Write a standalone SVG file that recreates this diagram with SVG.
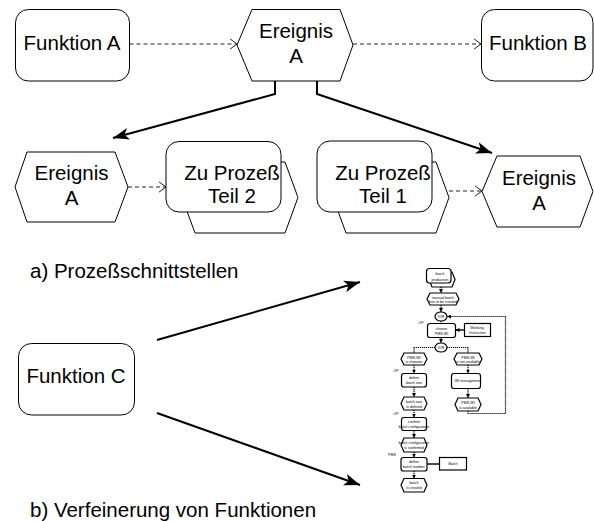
<svg xmlns="http://www.w3.org/2000/svg" width="594" height="521" viewBox="0 0 594 521">
<defs>
<style>
.node{fill:#fff;stroke:#000;stroke-width:1}
.t{font-family:"Liberation Sans",Arial,sans-serif;font-size:20.5px;fill:#000;text-anchor:middle}
.cap{font-family:"Liberation Sans",Arial,sans-serif;font-size:20.5px;fill:#000}
.dash{fill:none;stroke:#222;stroke-width:1;stroke-dasharray:4 3}
.solid{fill:none;stroke:#000;stroke-width:2}
.fn{fill:#fff;stroke:#000;stroke-width:1.2}
.ft{font-family:"Liberation Sans",Arial,sans-serif;font-size:3.6px;fill:#000;text-anchor:middle}
.fl{fill:none;stroke:#000;stroke-width:1.2;stroke-dasharray:1.2 0.8}
.fs{fill:none;stroke:#000;stroke-width:1.4}
</style>
<marker id="fill" markerUnits="userSpaceOnUse" viewBox="0 0 16 12" refX="16" refY="6" markerWidth="16" markerHeight="12" orient="auto">
<path d="M0,0 L16,6 L0,12 L4,6 z" fill="#000"/>
</marker>
<marker id="open" markerUnits="userSpaceOnUse" viewBox="0 0 8 12" refX="7.5" refY="6" markerWidth="8" markerHeight="12" orient="auto">
<path d="M0,0.5 L7.5,6 L0,11.5" fill="none" stroke="#222" stroke-width="1"/>
</marker>
<marker id="tiny" markerUnits="userSpaceOnUse" viewBox="0 0 4 4" refX="4" refY="2" markerWidth="4" markerHeight="4" orient="auto">
<path d="M0,0 L4,2 L0,4 z" fill="#000"/>
</marker>
</defs>

<g id="connectors">
<line class="dash" x1="129.5" y1="44" x2="237" y2="44" marker-end="url(#open)"/>
<line class="dash" x1="353" y1="44" x2="481" y2="44" marker-end="url(#open)"/>
<polyline class="solid" points="275,65 275,94 113,138" marker-end="url(#fill)"/>
<polyline class="solid" points="317,65 317,94 492,153" marker-end="url(#fill)"/>
<line class="dash" x1="128" y1="187" x2="166" y2="187" marker-end="url(#open)"/>
<line class="dash" x1="449" y1="191" x2="482" y2="191" marker-end="url(#open)"/>
<line class="solid" x1="157" y1="340" x2="360" y2="282" marker-end="url(#fill)"/>
<line class="solid" x1="157" y1="413" x2="360" y2="485" marker-end="url(#fill)"/>
</g>

<g id="funktion-a">
<rect class="node" x="15.5" y="9.5" width="114" height="71.5" rx="13"/>
<text class="t" x="72" y="50">Funktion A</text>
</g>
<g id="ereignis-a-top">
<polygon class="node" points="237,45 252,9.5 340,9.5 353,45 340,81 252,81"/>
<text class="t" x="296" y="38">Ereignis</text>
<text class="t" x="296" y="63">A</text>
</g>
<g id="funktion-b">
<rect class="node" x="481.5" y="9.5" width="111.5" height="71.5" rx="13"/>
<text class="t" x="538" y="50">Funktion B</text>
</g>
<g id="ereignis-a-left">
<polygon class="node" points="15,187 27,152 115,152 128,187 115,222 27,222"/>
<text class="t" x="71.5" y="180">Ereignis</text>
<text class="t" x="71.5" y="205">A</text>
</g>
<g id="zu-prozess-teil-2">
<polygon class="node" points="182,197.5 195,162 285,162 298,197.5 285,233 195,233"/>
<rect class="node" x="166" y="141.5" width="115" height="70.5" rx="13"/>
<text class="t" x="232" y="180">Zu Prozeß</text>
<text class="t" x="232" y="203">Teil 2</text>
</g>
<g id="zu-prozess-teil-1">
<polygon class="node" points="333,197.5 346,162 436,162 449,197.5 436,233 346,233"/>
<rect class="node" x="317" y="141" width="115" height="71" rx="13"/>
<text class="t" x="383" y="180">Zu Prozeß</text>
<text class="t" x="383" y="203">Teil 1</text>
</g>
<g id="ereignis-a-right">
<polygon class="node" points="482,191.5 497,156 580,156 593,191.5 580,227 497,227"/>
<text class="t" x="539" y="185">Ereignis</text>
<text class="t" x="539" y="210">A</text>
</g>
<g id="caption-a">
<text class="cap" x="30" y="278">a) Prozeßschnittstellen</text>
</g>
<g id="funktion-c">
<rect class="node" x="18.5" y="343.5" width="116" height="71.5" rx="13"/>
<text class="t" x="76" y="383">Funktion C</text>
</g>
<g id="caption-b">
<text class="cap" x="30" y="517">b) Verfeinerung von Funktionen</text>
</g>

<g id="refinement">
<g id="flow-connectors">
<line class="fl" x1="441" y1="287" x2="441" y2="293" marker-end="url(#tiny)"/>
<line class="fl" x1="441" y1="305" x2="441" y2="312" marker-end="url(#tiny)"/>
<line class="fl" x1="441" y1="321" x2="441" y2="323.5" />
<line class="fs" x1="464.5" y1="330" x2="455.5" y2="330" marker-end="url(#tiny)"/>
<line class="fl" x1="441" y1="337.5" x2="441" y2="343" marker-end="url(#tiny)"/>
<polyline class="fl" points="435,347.5 414,347.5 414,353"/>
<polyline class="fl" points="447,347.5 468,347.5 468,353"/>
<line class="fl" x1="414" y1="365" x2="414" y2="373.5" marker-end="url(#tiny)"/>
<line class="fl" x1="468" y1="365" x2="468" y2="373.5" marker-end="url(#tiny)"/>
<line class="fl" x1="414" y1="387" x2="414" y2="397" marker-end="url(#tiny)"/>
<line class="fl" x1="468" y1="388.5" x2="468" y2="398" marker-end="url(#tiny)"/>
<polyline class="fl" points="468,411 468,413.5 505.5,413.5 505.5,316.5 447,316.5" marker-end="url(#tiny)"/>
<line class="fl" x1="414" y1="410" x2="414" y2="417.5" marker-end="url(#tiny)"/>
<line class="fl" x1="414" y1="430.5" x2="414" y2="438" marker-end="url(#tiny)"/>
<line class="fl" x1="414" y1="452" x2="414" y2="457.5" marker-end="url(#tiny)"/>
<line class="fs" x1="427" y1="464" x2="439.5" y2="464"/>
<line class="fl" x1="414" y1="471" x2="414" y2="478.5" marker-end="url(#tiny)"/>
</g>
<g id="f-batch-production">
<polygon class="fn" points="429,279.5 432,272 452,272 455,279.5 452,287 432,287"/>
<rect class="fn" x="426.5" y="268.5" width="24.5" height="14.5" rx="3"/>
<text class="ft" x="440" y="275">batch</text>
<text class="ft" x="440" y="280.5">production</text>
</g>
<g id="f-manual-batch">
<polygon class="fn" points="427,299 430,293 456,293 459,299 456,305 430,305"/>
<text class="ft" x="443" y="298.5">manual batch</text>
<text class="ft" x="443" y="303.3">has to be created</text>
</g>
<g id="f-xor-1">
<ellipse class="fn" cx="441" cy="316.5" rx="6" ry="4.5"/>
<text class="ft" x="441" y="317.8" style="font-size:3px">XOR</text>
<text class="ft" x="421" y="323.5">OP</text>
</g>
<g id="f-choose">
<rect class="fn" x="427.5" y="323.5" width="28" height="14" rx="2.5"/>
<text class="ft" x="441.5" y="329.5">choose</text>
<text class="ft" x="441.5" y="334.5">PMS-WI</text>
</g>
<g id="f-working-instruction">
<rect class="fn" x="464.5" y="323.5" width="26" height="13"/>
<text class="ft" x="477.5" y="329">Working-</text>
<text class="ft" x="477.5" y="334">Instruction</text>
</g>
<g id="f-xor-2">
<ellipse class="fn" cx="441" cy="347.5" rx="6" ry="4.5"/>
<text class="ft" x="441" y="348.8" style="font-size:3px">XOR</text>
</g>
<g id="f-pms-chosen">
<polygon class="fn" points="401,359 404,353 424,353 427,359 424,365 404,365"/>
<text class="ft" x="414" y="358.5">PMS-WI</text>
<text class="ft" x="414" y="363.2">is choosen</text>
</g>
<g id="f-pms-not-available">
<polygon class="fn" points="454,359 457,353 479,353 482,359 479,365 457,365"/>
<text class="ft" x="468" y="358.5">PMS-WI</text>
<text class="ft" x="468" y="363.2">is not available</text>
</g>
<g id="f-define-batch-size">
<rect class="fn" x="401.5" y="373.5" width="25" height="13.5" rx="2.5"/>
<text class="ft" x="414" y="379">define</text>
<text class="ft" x="414" y="384">batch size</text>
<text class="ft" x="396" y="372">OP</text>
</g>
<g id="f-wi-management">
<rect class="fn" x="451.5" y="373.5" width="29" height="15" rx="2.5"/>
<text class="ft" x="468" y="382.3">WI management</text>
</g>
<g id="f-batch-size-defined">
<polygon class="fn" points="401,403.5 404,397 424,397 427,403.5 424,410 404,410"/>
<text class="ft" x="414" y="402.5">batch size</text>
<text class="ft" x="414" y="407.5">is defined</text>
</g>
<g id="f-pms-available">
<polygon class="fn" points="455,404.5 458,398 478,398 481,404.5 478,411 458,411"/>
<text class="ft" x="468" y="403.5">PMS-WI</text>
<text class="ft" x="468" y="408.5">is available</text>
</g>
<g id="f-confirm">
<rect class="fn" x="401.5" y="417.5" width="25" height="13" rx="2.5"/>
<text class="ft" x="414" y="422.8">confirm</text>
<text class="ft" x="414" y="427.6">batch configuration</text>
<text class="ft" x="396" y="415">OP</text>
</g>
<g id="f-config-confirmed">
<polygon class="fn" points="401,445 404,438 424,438 427,445 424,452 404,452"/>
<text class="ft" x="414" y="444">batch configuration</text>
<text class="ft" x="414" y="449">is confirmed</text>
</g>
<g id="f-define-batch-number">
<rect class="fn" x="401" y="457.5" width="26" height="13.5" rx="2.5"/>
<text class="ft" x="414" y="463">define</text>
<text class="ft" x="414" y="468">batch number</text>
<text class="ft" x="392" y="456">PMS</text>
</g>
<g id="f-batch">
<rect class="fn" x="439.5" y="457.5" width="27" height="12.5"/>
<text class="ft" x="453" y="465">Batch</text>
</g>
<g id="f-batch-created">
<polygon class="fn" points="401,485 404,478.5 424,478.5 427,485 424,492 404,492"/>
<text class="ft" x="414" y="484">batch</text>
<text class="ft" x="414" y="489">is created</text>
</g>
</g>
</svg>
